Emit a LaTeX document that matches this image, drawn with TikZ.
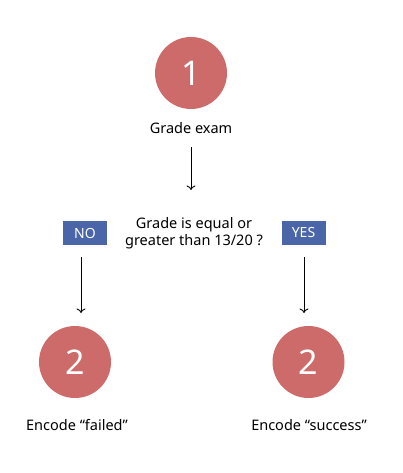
\documentclass[tikz,border=0pt]{standalone}
\usepackage{fontspec}
\setmainfont{Noto Sans}
\usetikzlibrary{arrows.meta}
\definecolor{circ}{HTML}{CD6B6B}
\definecolor{boxc}{HTML}{4A65A8}
\begin{document}
\begin{tikzpicture}[x=1pt,y=-1pt,
  stepcirc/.style={circle,fill=circ,minimum size=72pt,inner sep=0pt,text=white,font=\fontsize{34}{36}\selectfont},
  lbl/.style={font=\fontsize{14.5}{17.5}\selectfont,align=center},
  tag/.style={fill=boxc,minimum width=44pt,minimum height=24pt,inner sep=0pt,text=white,font=\fontsize{14}{16}\selectfont},
  arr/.style={-{To[length=4.5pt,width=9pt]},line width=0.9pt}]
\useasboundingbox (0,0) rectangle (402,473);
\node[stepcirc] (c1) at (191,73) {1};
\node[lbl] (t1) at (191,128) {Grade exam};
\coordinate (a1s) at (191,147);
\coordinate (a1e) at (191,190);
\draw[arr] (a1s) -- (a1e);
\node[lbl] (q) at (194,233) {Grade is equal or\\greater than 13/20 ?};
\node[tag] (no) at (85,233) {NO};
\node[tag] (yes) at (303.5,233) {YES};
\coordinate (ns) at (81,257);
\coordinate (ne) at (81,313);
\coordinate (ys) at (304,257);
\coordinate (ye) at (304,313);
\draw[arr] (ns) -- (ne);
\draw[arr] (ys) -- (ye);
\node[stepcirc] (c2) at (75,362) {2};
\node[stepcirc] (c3) at (308.5,362) {2};
\node[lbl] (t2) at (77,425) {Encode “failed”};
\node[lbl] (t3) at (309,425) {Encode “success”};
\end{tikzpicture}
\end{document}
